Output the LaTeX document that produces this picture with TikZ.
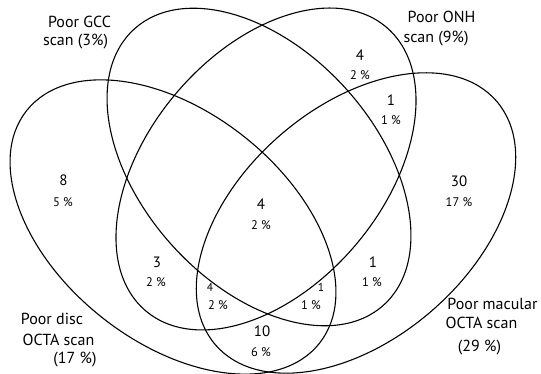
\documentclass[tikz,border=0pt]{standalone}
\usepackage{fontspec}
\setmainfont{PT Sans}
\tikzset{
  vennline/.style={draw=black, line width=1.1pt},
  setlabel/.style={anchor=base, inner sep=0pt, font=\fontsize{16}{18}\selectfont},
  count/.style={inner sep=0pt, font=\fontsize{15}{17}\selectfont},
  smallcount/.style={inner sep=0pt, font=\fontsize{11.5}{13}\selectfont},
  pct/.style={inner sep=0pt, font=\fontsize{12.5}{14}\selectfont},
}
\begin{document}
\begin{tikzpicture}[x=1pt,y=1pt]
\useasboundingbox (0,0) rectangle (541,374);
% ellipses (Y = 374 - screen y)
\begin{scope}[shift={(173,147)}, rotate=-38.5]
  \draw[vennline] (0,0) ellipse [x radius=187pt, y radius=115pt];
\end{scope}
\begin{scope}[shift={(356,151)}, rotate=41]
  \draw[vennline] (0,0) ellipse [x radius=186pt, y radius=116pt];
\end{scope}
\begin{scope}[shift={(266,205)}, rotate=49.7]
  \draw[vennline] (0,0) ellipse [x radius=186pt, y radius=117.5pt];
\end{scope}
\begin{scope}[shift={(259,207)}, rotate=-47.9]
  \draw[vennline] (0,0) ellipse [x radius=186pt, y radius=117pt];
\end{scope}
% set labels
\node[setlabel] (gcc1) at (79.5,346) {Poor GCC};
\node[setlabel] (gcc2) at (75.5,328) {scan (3\%)};
\node[setlabel] (onh1) at (441.5,351) {Poor ONH};
\node[setlabel] (onh2) at (436,331) {scan (9\%)};
\node[setlabel] (disc1) at (52,49) {Poor disc};
\node[setlabel] (disc2) at (58.5,28) {OCTA scan};
\node[setlabel] (disc3) at (75,10) {(17 \%)};
\node[setlabel] (mac1) at (492.5,64) {Poor macular};
\node[setlabel] (mac2) at (481.5,45) {OCTA scan};
\node[setlabel] (mac3) at (479.5,22) {(29 \%)};
% counts
\node[count] (n8) at (63.5,193.5) {8};
\node[pct] (p8) at (63,172) {5 \%};
\node[count] (n30) at (459,193) {30};
\node[pct] (p30) at (459,172) {17 \%};
\node[count] (n4a) at (360,319) {4};
\node[pct] (p4a) at (360,299) {2 \%};
\node[count] (n1a) at (391,274) {1};
\node[pct] (p1a) at (391,254) {1 \%};
\node[count] (n4b) at (261,170) {4};
\node[pct] (p4b) at (261,149) {2 \%};
\node[count] (n3) at (157,112) {3};
\node[pct] (p3) at (156,92) {2 \%};
\node[count] (n1b) at (373,112) {1};
\node[pct] (p1b) at (372,92) {1 \%};
\node[smallcount] (n4c) at (210,87) {4};
\node[pct] (p4c) at (218,69) {2 \%};
\node[smallcount] (n1c) at (321,87) {1};
\node[pct] (p1c) at (311,69) {1 \%};
\node[count] (n10) at (262,43) {10};
\node[pct] (p10) at (261,22) {6 \%};
\end{tikzpicture}
\end{document}
